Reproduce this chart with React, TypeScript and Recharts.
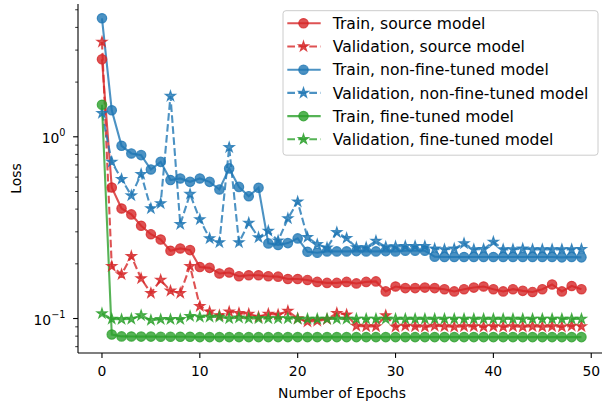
import { LineChart, Line, XAxis, YAxis } from "recharts";

const epochs = [
  0, 1, 2, 3, 4, 5, 6, 7, 8, 9,
  10, 11, 12, 13, 14, 15, 16, 17, 18, 19,
  20, 21, 22, 23, 24, 25, 26, 27, 28, 29,
  30, 31, 32, 33, 34, 35, 36, 37, 38, 39,
  40, 41, 42, 43, 44, 45, 46, 47, 48, 49,
];

const trainSource = [
  2.67, 0.526, 0.403, 0.374, 0.324, 0.291, 0.272, 0.236, 0.243, 0.238,
  0.192, 0.19, 0.177, 0.179, 0.171, 0.173, 0.173, 0.171, 0.17, 0.165,
  0.165, 0.163, 0.159, 0.157, 0.157, 0.159, 0.156, 0.159, 0.16, 0.141,
  0.15, 0.147, 0.147, 0.148, 0.147, 0.145, 0.141, 0.145, 0.148, 0.15,
  0.145, 0.141, 0.145, 0.142, 0.14, 0.145, 0.154, 0.141, 0.151, 0.145,
];

const valSource = [
  3.33, 0.194, 0.175, 0.22, 0.166, 0.138, 0.163, 0.142, 0.138, 0.194,
  0.117, 0.109, 0.104, 0.109, 0.107, 0.106, 0.102, 0.106, 0.105, 0.11,
  0.1, 0.096, 0.097, 0.099, 0.107, 0.105, 0.091, 0.0905, 0.0905, 0.104,
  0.09, 0.091, 0.0905, 0.09, 0.091, 0.0905, 0.09, 0.0905, 0.0905, 0.09,
  0.0905, 0.09, 0.0905, 0.09, 0.0905, 0.09, 0.0905, 0.09, 0.091, 0.0905,
];

const trainNonFT = [
  4.49, 1.4, 0.892, 0.81, 0.793, 0.661, 0.728, 0.578, 0.59, 0.565,
  0.59, 0.565, 0.513, 0.67, 0.53, 0.471, 0.524, 0.259, 0.254, 0.26,
  0.276, 0.233, 0.23, 0.234, 0.234, 0.234, 0.235, 0.234, 0.234, 0.235,
  0.234, 0.236, 0.236, 0.236, 0.219, 0.218, 0.218, 0.218, 0.218, 0.218,
  0.218, 0.218, 0.218, 0.218, 0.218, 0.218, 0.218, 0.217, 0.218, 0.217,
];

const valNonFT = [
  1.35, 0.728, 0.585, 0.475, 0.623, 0.403, 0.43, 1.675, 0.33, 0.484,
  0.351, 0.276, 0.262, 0.875, 0.262, 0.336, 0.279, 0.303, 0.268, 0.355,
  0.439, 0.28, 0.256, 0.245, 0.298, 0.277, 0.246, 0.246, 0.267, 0.248,
  0.249, 0.25, 0.25, 0.25, 0.242, 0.24, 0.242, 0.259, 0.24, 0.241,
  0.264, 0.24, 0.24, 0.242, 0.24, 0.24, 0.24, 0.24, 0.24, 0.241,
];

const trainFT = [
  1.5, 0.0816, 0.0797, 0.0796, 0.0795, 0.0795, 0.0794, 0.0794, 0.0793, 0.0793,
  0.079, 0.079, 0.079, 0.079, 0.079, 0.079, 0.079, 0.079, 0.079, 0.079,
  0.079, 0.079, 0.079, 0.079, 0.079, 0.079, 0.079, 0.079, 0.079, 0.079,
  0.079, 0.079, 0.079, 0.079, 0.079, 0.079, 0.079, 0.079, 0.079, 0.079,
  0.079, 0.079, 0.079, 0.079, 0.079, 0.079, 0.079, 0.079, 0.079, 0.079,
];

const valFT = [
  0.1065, 0.0995, 0.099, 0.0995, 0.104, 0.098, 0.099, 0.099, 0.099, 0.103,
  0.102, 0.102, 0.102, 0.1, 0.101, 0.1, 0.1, 0.1, 0.1, 0.1,
  0.0995, 0.0995, 0.0995, 0.0995, 0.0995, 0.0995, 0.0995, 0.0995, 0.0995, 0.0995,
  0.0995, 0.0995, 0.0995, 0.0995, 0.0995, 0.0995, 0.0995, 0.0995, 0.0995, 0.0995,
  0.0995, 0.0995, 0.0995, 0.0995, 0.0995, 0.0995, 0.0995, 0.0995, 0.0995, 0.0995,
];

const xTicks = [0, 10, 20, 30, 40, 50];
const yMajorTicks = [0.1, 1];
const yMinorTicks = [0.07, 0.08, 0.09, 0.2, 0.3, 0.4, 0.5, 0.6, 0.7, 0.8, 0.9, 2, 3, 4, 5];

const series = [
  { key: "trainSource", name: "Train, source model", color: "#d62728", dashed: false, marker: "circle", values: trainSource },
  { key: "valSource", name: "Validation, source model", color: "#d62728", dashed: true, marker: "star", values: valSource },
  { key: "trainNonFT", name: "Train, non-fine-tuned model", color: "#1f77b4", dashed: false, marker: "circle", values: trainNonFT },
  { key: "valNonFT", name: "Validation, non-fine-tuned model", color: "#1f77b4", dashed: true, marker: "star", values: valNonFT },
  { key: "trainFT", name: "Train, fine-tuned model", color: "#2ca02c", dashed: false, marker: "circle", values: trainFT },
  { key: "valFT", name: "Validation, fine-tuned model", color: "#2ca02c", dashed: true, marker: "star", values: valFT },
];

const data = epochs.map((epoch, i) => {
  const row: Record<string, number> = { epoch };
  series.forEach((s) => {
    row[s.key] = s.values[i];
  });
  return row;
});

const FONT = "DejaVu Sans";
const DASH = "7.7 3.3";
const ALPHA = 0.8;

function starPath(cx: number, cy: number, r: number) {
  const pts: string[] = [];
  for (let i = 0; i < 10; i++) {
    const a = -Math.PI / 2 + (i * Math.PI) / 5;
    const rr = i % 2 === 0 ? r : r * 0.382;
    pts.push(`${cx + rr * Math.cos(a)},${cy + rr * Math.sin(a)}`);
  }
  return `M${pts.join("L")}Z`;
}

function Marker({ cx, cy, color, shape }: { cx: number; cy: number; color: string; shape: string }) {
  if (shape === "circle") {
    return (
      <circle cx={cx} cy={cy} r={4.7} fill={color} fillOpacity={ALPHA} stroke={color} strokeOpacity={ALPHA} strokeWidth={1.2} />
    );
  }
  return (
    <path d={starPath(cx, cy, 5.4)} fill={color} fillOpacity={ALPHA} stroke={color} strokeOpacity={ALPHA} strokeWidth={1.1} strokeLinejoin="miter" />
  );
}

function YTick(props: any) {
  const { x, y, payload } = props;
  const v = payload.value;
  const major = yMajorTicks.includes(v);
  const len = major ? 4.9 : 2.8;
  const exp = Math.round(Math.log10(v));
  return (
    <g>
      <line x1={x - len} x2={x} y1={y} y2={y} stroke="#000" strokeWidth={major ? 1.1 : 0.8} />
      {major && (
        <text x={x - 12.5} y={y + 6.6} textAnchor="end" fontSize={13.9} fontFamily={FONT} fill="#000">
          10
          <tspan dy={-7} fontSize={9.7}>
            {exp < 0 ? `\u2212${-exp}` : `${exp}`}
          </tspan>
        </text>
      )}
    </g>
  );
}

function Legend() {
  const rowY = (i: number) => 23.3 + i * 23.2;
  return (
    <svg width={602} height={405} style={{ position: "absolute", left: 0, top: 0, pointerEvents: "none" }}>
      <rect x={283} y={10.7} width={315} height={144.5} rx={3} fill="#fff" fillOpacity={0.8} stroke="#cccccc" strokeWidth={1} />
      {series.map((s, i) => (
        <g key={s.key}>
          <line
            x1={287.3}
            x2={320.7}
            y1={rowY(i)}
            y2={rowY(i)}
            stroke={s.color}
            strokeOpacity={ALPHA}
            strokeWidth={2.1}
            strokeDasharray={s.dashed ? DASH : undefined}
          />
          <Marker cx={303.5} cy={rowY(i)} color={s.color} shape={s.marker} />
          <text x={332.7} y={rowY(i) + 5.6} fontSize={15.6} fontFamily={FONT} fill="#000">
            {s.name}
          </text>
        </g>
      ))}
    </svg>
  );
}

export default function App() {
  const xDomain = [-2.45, 51.1];
  const yDomain = [0.0646, 5.38];
  return (
    <div style={{ position: "absolute", left: 0, top: 0, width: 602, height: 405, background: "#fff" }}>
      <LineChart width={602} height={405} data={data} margin={{ top: 4, right: 0, left: 0, bottom: 0 }}>
        <XAxis
          dataKey="epoch"
          type="number"
          domain={xDomain}
          allowDataOverflow
          ticks={xTicks}
          interval={0}
          height={52}
          tickSize={4.9}
          tickMargin={8}
          axisLine={{ stroke: "#000", strokeWidth: 1.1 }}
          tickLine={{ stroke: "#000", strokeWidth: 1.1 }}
          tick={{ fill: "#000", fontSize: 13.9, fontFamily: FONT }}
          label={(p: any) => {
            const vb = p.viewBox;
            return (
              <text x={vb.x + vb.width / 2 + 2} y={vb.y + 44.5} textAnchor="middle" fontSize={13.9} fontFamily={FONT} fill="#000">
                Number of Epochs
              </text>
            );
          }}
        />
        <XAxis
          xAxisId="top"
          orientation="top"
          dataKey="epoch"
          type="number"
          domain={xDomain}
          allowDataOverflow
          height={0}
          tick={false}
          tickLine={false}
          axisLine={{ stroke: "#000", strokeWidth: 1.1 }}
        />
        <YAxis
          type="number"
          scale="log"
          domain={yDomain}
          allowDataOverflow
          ticks={[...yMinorTicks, ...yMajorTicks].sort((a, b) => a - b)}
          interval={0}
          width={78}
          tickSize={0}
          tickMargin={0}
          tickLine={false}
          axisLine={{ stroke: "#000", strokeWidth: 1.1 }}
          tick={<YTick />}
          label={(p: any) => {
            const vb = p.viewBox;
            const cy = vb.y + vb.height / 2;
            return (
              <text x={20.5} y={cy} transform={`rotate(-90, 20.5, ${cy})`} textAnchor="middle" fontSize={13.9} fontFamily={FONT} fill="#000">
                Loss
              </text>
            );
          }}
        />
        {series.map((s) => (
          <Line
            key={s.key}
            type="linear"
            dataKey={s.key}
            name={s.name}
            stroke={s.color}
            strokeOpacity={ALPHA}
            strokeWidth={2.1}
            strokeDasharray={s.dashed ? DASH : undefined}
            dot={(p: any) => <Marker key={`${s.key}-${p.index}`} cx={p.cx} cy={p.cy} color={s.color} shape={s.marker} />}
            activeDot={false}
            isAnimationActive={false}
          />
        ))}
      </LineChart>
      <Legend />
    </div>
  );
}
